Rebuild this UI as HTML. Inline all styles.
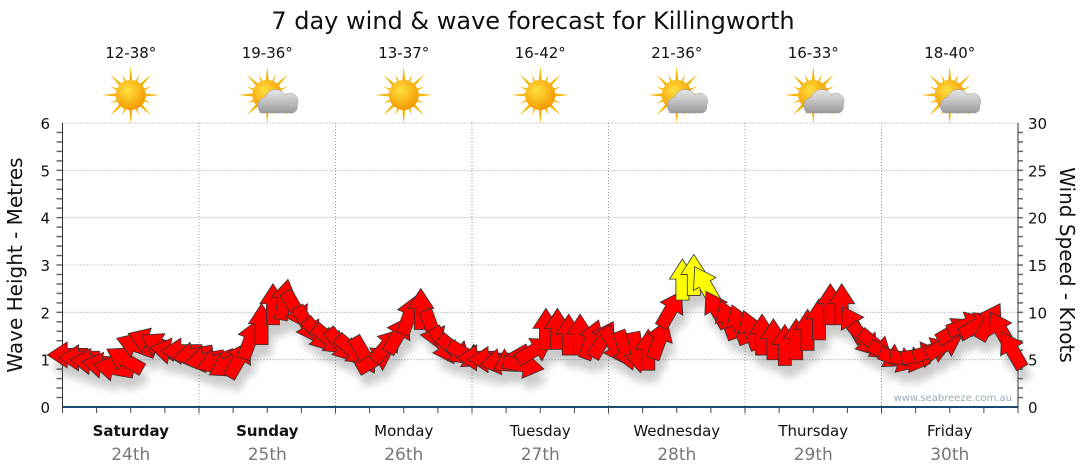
<!DOCTYPE html>
<html><head><meta charset="utf-8"><style>
body{margin:0;background:#fff;width:1080px;height:475px;overflow:hidden;font-family:"DejaVu Sans","Liberation Sans",sans-serif}
svg{display:block}
</style></head><body>
<svg id="chart" width="1080" height="475" xmlns="http://www.w3.org/2000/svg">
<defs>
<radialGradient id="sunG" cx="40%" cy="35%" r="65%"><stop offset="0" stop-color="#ffe040"/><stop offset="1" stop-color="#f39a00"/></radialGradient>
<linearGradient id="cloudG" x1="0" y1="0" x2="0" y2="1"><stop offset="0" stop-color="#e8e8e8"/><stop offset="1" stop-color="#9a9a9a"/></linearGradient>
<filter id="sh" x="-50%" y="-50%" width="200%" height="200%"><feGaussianBlur stdDeviation="4"/></filter>
</defs>
<text x="533" y="29" font-size="24" text-anchor="middle" fill="#111">7 day wind &amp; wave forecast for Killingworth</text>
<g id="grid"></g><g id="axes"></g><g id="icons"></g>
<g id="shadows" filter="url(#sh)" opacity="0.3"></g>
<g id="arrows"></g>
<text x="1012" y="401" font-size="10" text-anchor="end" fill="#9ab">www.seabreeze.com.au</text>
<text transform="translate(22,265) rotate(-90)" font-size="20" text-anchor="middle" fill="#111">Wave Height - Metres</text>
<text transform="translate(1060,265) rotate(90)" font-size="20" text-anchor="middle" fill="#111">Wind Speed - Knots</text>
</svg>
<script>
const days=["Saturday","Sunday","Monday","Tuesday","Wednesday","Thursday","Friday"];
const dates=["24th","25th","26th","27th","28th","29th","30th"];
const temps=["12-38°","19-36°","13-37°","16-42°","21-36°","16-33°","18-40°"];
const cloudy=[false,true,false,false,true,true,true];
const leftTicks=[0,1,2,3,4,5,6];
const rightTicks=[0,5,10,15,20,25,30];
const windSpeed=[5.5,5.2,4.8,4.4,4.1,5.0,6.5,7.0,6.5,5.9,5.9,5.5,
5.0,4.8,4.5,5.0,7.1,8.7,10.8,11.3,10.3,8.7,7.6,7.1,
6.5,6.0,5.5,5.0,6.5,7.6,9.7,10.3,8.2,6.5,6.0,5.5,
5.2,5.0,4.8,5.0,4.4,6.0,8.2,8.2,7.6,7.6,7.1,7.1,
6.5,6.0,5.8,6.0,7.1,10.3,13.4,13.9,12.9,10.3,9.2,8.7,
8.1,7.6,7.1,6.5,7.1,8.1,9.2,10.8,10.8,8.7,7.1,6.5,
5.5,5.0,5.0,5.5,6.0,6.5,8.1,8.7,8.7,9.0,8.1,6.0];
const windDir=[270,270,275,280,280,300,290,290,300,280,270,260,
260,250,240,30,20,0,0,10,150,150,140,130,
140,130,150,60,40,30,20,0,160,150,130,120,
270,270,260,240,100,60,0,0,0,0,20,30,
150,160,170,0,20,30,0,0,330,330,340,340,
340,0,0,0,0,0,0,0,0,330,140,130,
120,110,100,80,70,60,60,70,60,30,330,330];
const X0=62.5,X1=1018,Y0=407,Y1=123;
const dayW=(X1-X0)/7;
const xHour=h=>X0+h/24*dayW;
const yM=v=>Y0-v/6*(Y0-Y1);
const yK=v=>Y0-v/30*(Y0-Y1);
const NS="http://www.w3.org/2000/svg";
function mk(tag,at,parent,txt){const e=document.createElementNS(NS,tag);for(const k in at)e.setAttribute(k,at[k]);if(txt!==undefined)e.textContent=txt;parent.appendChild(e);return e;}
const grid=document.getElementById('grid'),axes=document.getElementById('axes'),icons=document.getElementById('icons');
leftTicks.forEach(v=>{if(v>0){const l=mk('line',{x1:X0,x2:X1,y1:yM(v),y2:yM(v),stroke:'#999','stroke-dasharray':'1,2'},grid);

}
const t=mk('text',{x:50,y:yM(v)+6,'font-size':15,'text-anchor':'end',fill:'#111'},axes,v);

});
rightTicks.forEach(v=>{const t=mk('text',{x:1028,y:yK(v)+6,'font-size':15,fill:'#111'},axes,v);

});
for(let i=1;i<30;i++){const y=Y0-i/30*(Y0-Y1);mk('line',{x1:X0-6,x2:X0,y1:y,y2:y,stroke:'#666','stroke-width':1.5},axes);mk('line',{x1:X1,x2:X1+5,y1:y,y2:y,stroke:'#666','stroke-width':1.5},axes);}
mk('line',{x1:X0,x2:X0,y1:Y1,y2:Y0,stroke:'#333'},axes);
mk('line',{x1:X1,x2:X1,y1:Y1,y2:Y0,stroke:'#333'},axes);
mk('line',{x1:X0,x2:X1,y1:Y0,y2:Y0,stroke:'#1a4a70','stroke-width':2},axes);
for(let h=0;h<=168;h+=6){mk('line',{x1:xHour(h),x2:xHour(h),y1:Y0,y2:Y0+6,stroke:'#444'},axes);}
days.forEach((d,i)=>{const cx=X0+(i+0.5)*dayW;
if(i>0){const l=mk('line',{x1:X0+i*dayW,x2:X0+i*dayW,y1:Y1,y2:Y0+8,stroke:'#999','stroke-dasharray':'1,2'},grid);

}
const a=mk('text',{x:cx,y:436,'font-size':15,'text-anchor':'middle',fill:'#111','font-weight':i<2?'bold':'normal'},axes,d);


const b=mk('text',{x:cx,y:460,'font-size':17,'text-anchor':'middle',fill:'#777'},axes,dates[i]);


const t=mk('text',{x:cx,y:58,'font-size':15,'text-anchor':'middle',fill:'#111'},icons,temps[i]);


const g=mk('g',{transform:`translate(${cx},95)`},icons);


for(let r=0;r<16;r++){const ang=r*22.5,L=r%2?22:29;mk('polygon',{points:`-3,0 3,0 0,-${L}`,fill:'#f4b400',transform:`rotate(${ang})`},g);}
mk('circle',{r:15,fill:'url(#sunG)'},g);
if(cloudy[i]){mk('path',{d:'M-6,18 a9,9 0 0 1 4,-16 a11,11 0 0 1 20,-2 a8,8 0 0 1 12,10 a7,7 0 0 1 -4,8 z',fill:'url(#cloudG)',stroke:'#999','stroke-width':0.5},g);}
});
const arrows=document.getElementById('arrows'),shadows=document.getElementById('shadows');
const shape="0,-21 13,-1 6.5,-1 6.5,20 -6.5,20 -6.5,-1 -13,-1";
windSpeed.forEach((v,i)=>{const x=xHour(i*2+1),y=yK(v);
mk('polygon',{points:shape,fill:'#555',transform:`translate(${x+4},${y+12}) rotate(${windDir[i]})`},shadows);
const p=mk('polygon',{points:shape,fill:v>12.5?'#ffff00':'#ff0000',stroke:'#333','stroke-width':0.8,transform:`translate(${x},${y}) rotate(${windDir[i]})`},arrows);

});
</script>
</body></html>
